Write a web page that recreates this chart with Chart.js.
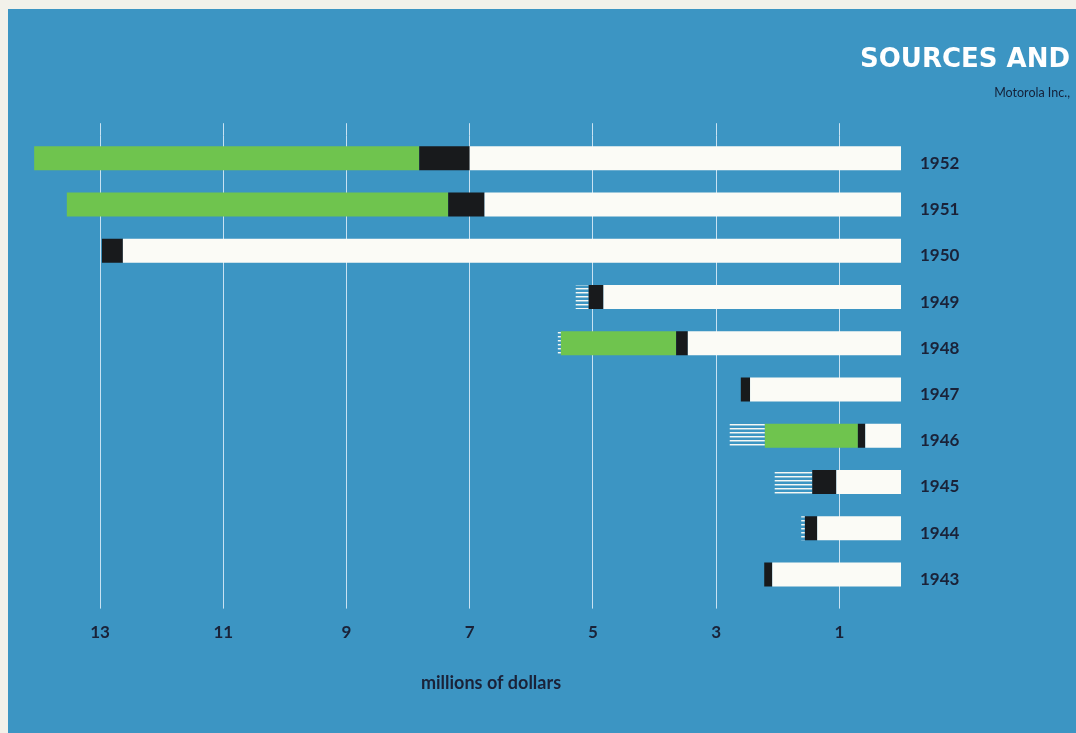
<!DOCTYPE html>
<html>
<head>
<meta charset="utf-8">
<script src="https://cdn.jsdelivr.net/npm/chart.js@4.4.0/dist/chart.umd.min.js"></script>
<style>
  html, body { margin: 0; padding: 0; background: #f2f1ea; }
  #wrap { position: relative; width: 1076px; height: 733px; overflow: hidden; }
  #paper { position: absolute; left: 8px; top: 9px; right: 0; bottom: 0; background: #3c95c3; }
  #myChart { position: absolute; left: 0; top: 0; }
</style>
</head>
<body>
<div id="wrap">
  <div id="paper"></div>
  <canvas id="myChart" width="1076" height="733"></canvas>
</div>
<script>
// years, top row first
const years = ['1952', '1951', '1950', '1949', '1948', '1947', '1946', '1945', '1944', '1943']
// segments in millions of dollars, stacked outward from zero
const earnings     = [7.00, 6.76, 12.63, 4.83, 3.46, 2.45, 0.58, 1.05, 1.36, 2.09]
const depreciation = [0.82, 0.59, 0.34, 0.24, 0.19, 0.15, 0.12, 0.39, 0.20, 0.13]
const borrowing    = [6.25, 6.19, 0, 0, 1.87, 0, 1.51, 0, 0, 0]
const other        = [0, 0, 0, 0.21, 0.05, 0, 0.57, 0.61, 0.06, 0]
const tickValues   = [1, 3, 5, 7, 9, 11, 13]

const ink = '#1a2238'
const gridColor = 'rgba(225, 240, 250, 0.85)'

// thin white horizontal lines for the "other" segment
const makeStripes = (ctx) => {
    const c = document.createElement('canvas')
    c.width = 8
    c.height = 4
    const g = c.getContext('2d')
    g.fillStyle = 'rgba(245, 248, 245, 1)'
    g.fillRect(0, 0, 8, 1)
    g.fillStyle = 'rgba(245, 248, 245, 0.45)'
    g.fillRect(0, 1, 8, 1)
    return ctx.createPattern(c, 'repeat')
}

const setTicks = (scale) => {
    scale.ticks = tickValues.map(v => ({ value: v }))
}

const axisCaption = {
    id: 'axisCaption',
    afterDraw(chart) {
        const { ctx, chartArea } = chart
        ctx.save()
        ctx.font = 'bold 18px Lato'
        ctx.fillStyle = ink
        ctx.textAlign = 'center'
        ctx.textBaseline = 'middle'
        ctx.fillText('millions of dollars', 491, chartArea.bottom + 86)
        ctx.restore()
    }
}

var ctx = document.getElementById('myChart').getContext('2d');
var chart = new Chart(ctx, {
    type: 'bar',
    data: {
        labels: years,
        datasets: [
            { label: 'earnings', data: earnings, backgroundColor: '#fbfbf6' },
            { label: 'depreciation', data: depreciation, backgroundColor: '#181a1c' },
            { label: 'borrowing', data: borrowing, backgroundColor: '#6fc44e' },
            { label: 'other', data: other, backgroundColor: makeStripes(ctx) }
        ]
    },
    options: {
        indexAxis: 'y',
        responsive: false,
        animation: false,
        datasets: {
            bar: { categoryPercentage: 1, barPercentage: 0.52 }
        },
        layout: { padding: { left: 20, right: 6, top: 0, bottom: 76 } },
        plugins: {
            legend: { display: false },
            tooltip: { enabled: false },
            title: {
                display: true,
                text: 'SOURCES AND',
                align: 'end',
                color: '#ffffff',
                font: { family: 'DejaVu Sans', weight: 'bold', size: 26 },
                padding: { top: 45, bottom: 0 }
            },
            subtitle: {
                display: true,
                text: 'Motorola Inc.,',
                align: 'end',
                color: '#142038',
                font: { family: 'Lato', size: 12.5 },
                padding: { top: 9, bottom: 23 }
            }
        },
        scales: {
            x: {
                type: 'linear',
                position: 'bottom',
                reverse: true,
                stacked: true,
                min: 0,
                max: 14.3,
                afterBuildTicks: setTicks,
                grid: { color: gridColor, lineWidth: 1, tickLength: 11, tickColor: gridColor },
                border: { display: false },
                ticks: {
                    color: ink,
                    padding: 14,
                    maxRotation: 0,
                    font: { family: 'Lato', weight: 'bold', size: 17 }
                }
            },
            xTop: {
                type: 'linear',
                axis: 'x',
                position: 'top',
                reverse: true,
                min: 0,
                max: 14.3,
                afterBuildTicks: setTicks,
                grid: { color: gridColor, drawOnChartArea: false, tickLength: 12, tickColor: gridColor },
                border: { display: false },
                ticks: { display: false }
            },
            y: {
                type: 'category',
                position: 'right',
                stacked: true,
                grid: { display: false },
                border: { display: false },
                afterFit: (scale) => { scale.width = 169 },
                ticks: {
                    color: ink,
                    padding: 11,
                    labelOffset: 5,
                    font: { family: 'Lato', weight: 'bold', size: 17 }
                }
            }
        }
    },
    plugins: [axisCaption]
});
</script>
</body>
</html>
